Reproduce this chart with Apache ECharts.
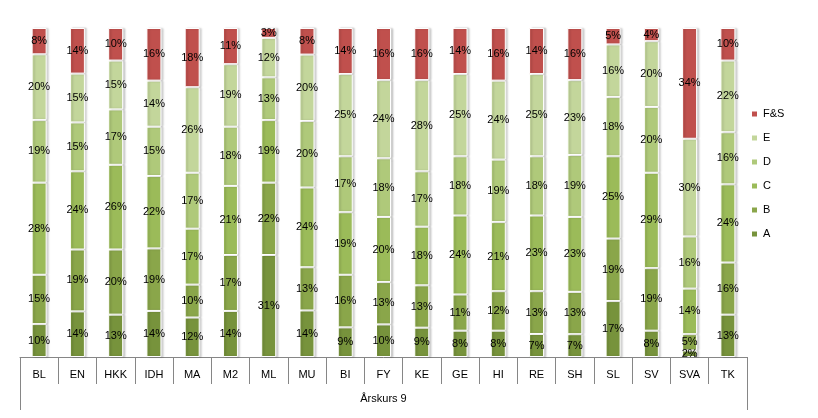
<!DOCTYPE html>
<html>
<head>
<meta charset="utf-8">
<script src="https://cdn.jsdelivr.net/npm/echarts@6/dist/echarts.min.js"></script>
<style>html,body{margin:0;padding:0;background:#fff}#c{width:818px;height:418px}</style>
</head>
<body>
<div id="c"></div>
<script>
const categories = ['BL','EN','HKK','IDH','MA','M2','ML','MU','BI','FY','KE','GE','HI','RE','SH','SL','SV','SVA','TK'];
const groupLabel = ['Årskurs 9'];
const gradeA  = [10,14,13,14,12,14,31,14, 9,10, 9, 8, 8, 7, 7,17, 8, 2,13];
const gradeB  = [15,19,20,19,10,17,22,13,16,13,13,11,12,13,13,19,19, 5,16];
const gradeC  = [28,24,26,22,17,21,19,24,19,20,18,24,21,23,23,25,29,14,24];
const gradeD  = [19,15,17,15,17,18,13,20,17,18,17,18,19,18,19,18,20,16,16];
const gradeE  = [20,15,15,14,26,19,12,20,25,24,28,25,24,25,23,16,20,30,22];
const gradeFS = [ 8,14,10,16,18,11, 3, 8,14,16,16,14,16,14,16, 5, 4,34,10];

const seriesDefs = [
  {name:'A', values:gradeA, color:'#77933C'},
  {name:'B', values:gradeB, color:'#8AA64A'},
  {name:'C', values:gradeC, color:'#9BBB59'},
  {name:'D', values:gradeD, color:'#AFC97A'},
  {name:'E', values:gradeE, color:'#C3D69B'},
  {name:'F&S', values:gradeFS, color:'#C0504D'}
];
const totals = categories.map((_, i) => seriesDefs.reduce((s, d) => s + d.values[i], 0));

const font = 'Liberation Sans, Arial, sans-serif';
const chart = echarts.init(document.getElementById('c'), null, {renderer:'canvas'});
chart.setOption({
  animation:false,
  textStyle:{fontFamily:font},
  grid:{left:20, right:71, top:28, bottom:61},
  legend:{
    orient:'vertical', left:745, top:102,
    itemWidth:7, itemHeight:7, itemGap:10, icon:'rect',
    data:['F&S','E','D','C','B','A'],
    textStyle:{fontSize:11, color:'#000', fontFamily:font, lineHeight:14}
  },
  xAxis:[
    {
      type:'category', data:categories, position:'bottom',
      axisLine:{lineStyle:{color:'#868686', width:1}},
      axisTick:{show:true, length:27, interval:0, alignWithLabel:false, lineStyle:{color:'#868686'}},
      axisLabel:{fontSize:11, color:'#000', margin:12, interval:0, fontFamily:font}
    },
    {
      type:'category', data:groupLabel, position:'bottom',
      axisLine:{show:false},
      axisTick:{show:true, length:53, lineStyle:{color:'#868686'}},
      axisLabel:{fontSize:11, color:'#000', margin:36, fontFamily:font}
    }
  ],
  yAxis:{type:'value', min:0, max:1, show:false, splitLine:{show:false}},
  series: seriesDefs.map(d => ({
    name:d.name, type:'bar', stack:'total', barWidth:15, xAxisIndex:0,
    itemStyle:{color:d.color, borderColor:'#fff', borderWidth:1,
      shadowColor:'rgba(0,0,0,0.18)', shadowBlur:2, shadowOffsetX:2, shadowOffsetY:0},
    label:{show:true, position:'inside', fontSize:11, color:'#000', fontFamily:font,
      formatter:p => p.data.raw + '%'},
    data:d.values.map((v, i) => ({value:v / totals[i], raw:v}))
  }))
});
</script>
</body>
</html>
